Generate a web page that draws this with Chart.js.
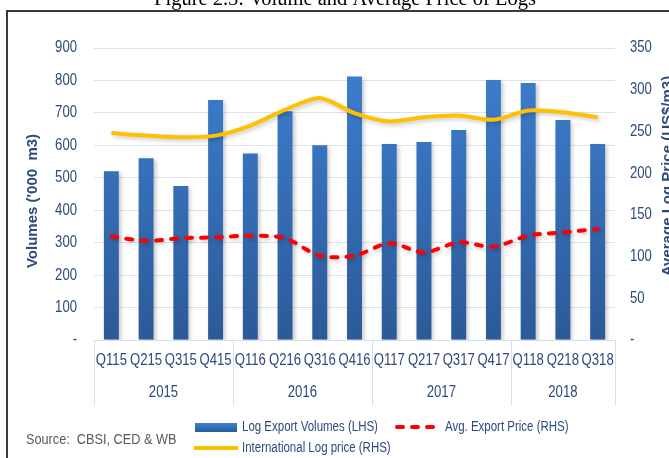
<!DOCTYPE html>
<html>
<head>
<meta charset="utf-8">
<script src="https://cdn.jsdelivr.net/npm/chart.js@4.4.0/dist/chart.umd.min.js"></script>
<style>
  html, body { margin: 0; padding: 0; background: #fff; overflow: hidden; }
</style>
</head>
<body>
<canvas id="logsChart" width="669" height="458"></canvas>
<script>
const quarters = ['Q115', 'Q215', 'Q315', 'Q415', 'Q116', 'Q216', 'Q316', 'Q416',
                  'Q117', 'Q217', 'Q317', 'Q417', 'Q118', 'Q218', 'Q318'];
const years = ['2015', '2016', '2017', '2018'];
const quartersPerYear = [4, 4, 4, 3];

// log export volumes ('000 m3), LHS
const volumes = [520, 560, 475, 740, 575, 705, 600, 812, 604, 610, 647, 801, 792, 678, 604];
// avg. export price (US$/m3), RHS
const exportPrice = [124, 119, 122, 123, 125, 122, 101, 101, 116, 105, 117, 112, 125, 129, 133];
// international log price (US$/m3), RHS
const intlPrice = [248, 245, 243, 245, 257, 276, 290, 272, 262, 267, 269, 264, 275, 273, 267];

const leftMax = 900, leftStep = 100;
const rightMax = 350, rightStep = 50;

// no Arial Narrow here, so squeeze Liberation Sans horizontally
const SANS = "'Liberation Sans', Arial, sans-serif";
const SQUEEZE = 0.82;
const INK = '#2e4a7d';

function barGradient(ctx, area) {
  const g = ctx.createLinearGradient(0, area.top, 0, area.bottom);
  g.addColorStop(0, '#3d80d2');
  g.addColorStop(1, '#2c5a98');
  return g;
}

function narrowText(ctx, text, x, y, align, size, color) {
  ctx.save();
  ctx.font = size + 'px ' + SANS;
  ctx.fillStyle = color || INK;
  ctx.textAlign = align;
  ctx.textBaseline = 'middle';
  ctx.translate(x, y);
  ctx.scale(SQUEEZE, 1);
  ctx.fillText(text, 0, 0);
  ctx.restore();
}

const decor = {
  id: 'decor',
  beforeDatasetDraw(chart) {
    const ctx = chart.ctx;
    ctx.save();
    ctx.shadowColor = 'rgba(0,0,0,0.22)';
    ctx.shadowBlur = 4;
    ctx.shadowOffsetX = 2;
    ctx.shadowOffsetY = 2;
  },
  afterDatasetDraw(chart) {
    chart.ctx.restore();
  },
  afterDraw(chart) {
    const ctx = chart.ctx;
    const { x, y, y1 } = chart.scales;
    const area = chart.chartArea;
    ctx.save();

    // cut-off figure title
    ctx.fillStyle = '#000';
    ctx.font = "20.5px 'Liberation Serif', 'Times New Roman', serif";
    ctx.textAlign = 'center';
    ctx.textBaseline = 'alphabetic';
    ctx.fillText('Figure 2.5: Volume and Average Price of Logs', 345, 5);

    // frame
    ctx.strokeStyle = '#3a3a3a';
    ctx.lineWidth = 2;
    ctx.beginPath();
    ctx.moveTo(7, 460);
    ctx.lineTo(7, 11);
    ctx.lineTo(670, 11);
    ctx.stroke();

    // tick labels
    y.ticks.forEach(t => {
      narrowText(ctx, t.value === 0 ? '-' : String(t.value), 77, y.getPixelForValue(t.value), 'right', 16);
    });
    y1.ticks.forEach(t => {
      narrowText(ctx, t.value === 0 ? '-' : String(t.value), 630, y1.getPixelForValue(t.value), 'left', 16);
    });
    quarters.forEach((q, i) => {
      narrowText(ctx, q, x.getPixelForValue(i), 361, 'center', 16);
    });

    // year groups under the quarter labels
    ctx.strokeStyle = '#d3dff0';
    ctx.lineWidth = 1;
    let idx = 0;
    const half = (x.getPixelForValue(1) - x.getPixelForValue(0)) / 2;
    const edges = [x.getPixelForValue(0) - half];
    years.forEach((yr, i) => {
      const first = idx, last = idx + quartersPerYear[i] - 1;
      const mid = (x.getPixelForValue(first) + x.getPixelForValue(last)) / 2;
      narrowText(ctx, yr, mid, 393, 'center', 16);
      idx += quartersPerYear[i];
      edges.push(x.getPixelForValue(last) + half);
    });
    edges.forEach(e => {
      const px = Math.round(e) + 0.5;
      ctx.beginPath();
      ctx.moveTo(px, area.bottom);
      ctx.lineTo(px, 405);
      ctx.stroke();
    });

    // axis titles
    ctx.font = 'bold 15px ' + SANS;
    ctx.fillStyle = INK;
    ctx.textAlign = 'center';
    ctx.textBaseline = 'middle';
    ctx.save();
    ctx.translate(33, 201);
    ctx.rotate(-Math.PI / 2);
    ctx.fillText("Volumes ('000  m3)", 0, 0);
    ctx.restore();
    ctx.save();
    ctx.translate(668, 176);
    ctx.rotate(-Math.PI / 2);
    ctx.fillText('Average Log Price (US$/m3)', 0, 0);
    ctx.restore();

    // source
    narrowText(ctx, 'Source:  CBSI, CED & WB', 26, 440, 'left', 15.5, '#595959');

    // legend
    const ds = chart.data.datasets;
    ctx.fillStyle = barGradient(ctx, { top: 423, bottom: 432 });
    ctx.fillRect(195, 423, 42, 9);
    narrowText(ctx, ds[0].label, 242, 427, 'left', 14);

    ctx.strokeStyle = '#ff0000';
    ctx.lineWidth = 4;
    ctx.lineCap = 'round';
    ctx.setLineDash([6, 9]);
    ctx.beginPath();
    ctx.moveTo(397, 427);
    ctx.lineTo(437, 427);
    ctx.stroke();
    ctx.setLineDash([]);
    narrowText(ctx, ds[1].label, 445, 427, 'left', 14);

    ctx.strokeStyle = '#ffc000';
    ctx.lineWidth = 4;
    ctx.lineCap = 'butt';
    ctx.beginPath();
    ctx.moveTo(194, 448);
    ctx.lineTo(238, 448);
    ctx.stroke();
    narrowText(ctx, ds[2].label, 242, 448, 'left', 14);

    ctx.restore();
  }
};

new Chart(document.getElementById('logsChart'), {
  data: {
    labels: quarters,
    datasets: [
      {
        type: 'bar',
        label: 'Log Export Volumes (LHS)',
        data: volumes,
        yAxisID: 'y',
        order: 3,
        backgroundColor: (c) => {
          const a = c.chart.chartArea;
          if (!a) return '#3465a8';
          return barGradient(c.chart.ctx, a);
        },
        categoryPercentage: 1,
        barPercentage: 0.43
      },
      {
        type: 'line',
        label: 'Avg. Export Price (RHS)',
        data: exportPrice,
        yAxisID: 'y1',
        order: 1,
        borderColor: '#ff0000',
        borderWidth: 4,
        borderDash: [6, 9],
        borderCapStyle: 'round',
        tension: 0.3,
        pointRadius: 0,
        fill: false
      },
      {
        type: 'line',
        label: 'International Log price (RHS)',
        data: intlPrice,
        yAxisID: 'y1',
        order: 2,
        borderColor: '#ffc000',
        borderWidth: 4,
        tension: 0.25,
        pointRadius: 0,
        fill: false
      }
    ]
  },
  options: {
    responsive: false,
    animation: false,
    layout: { padding: { top: 48, bottom: 0, left: 0, right: 0 } },
    plugins: {
      legend: { display: false },
      tooltip: { enabled: false }
    },
    scales: {
      x: {
        grid: { display: false, drawTicks: false },
        border: { display: true, color: '#d3dff0' },
        ticks: { display: false, autoSkip: false },
        afterFit: (s) => { s.height = 118; }
      },
      y: {
        position: 'left',
        min: 0,
        max: leftMax,
        grid: { color: '#d9e4f2', drawTicks: false },
        border: { display: false },
        ticks: { display: false, stepSize: leftStep },
        afterFit: (s) => { s.width = 94; }
      },
      y1: {
        position: 'right',
        min: 0,
        max: rightMax,
        grid: { display: false, drawTicks: false },
        border: { display: false },
        ticks: { display: false, stepSize: rightStep },
        afterFit: (s) => { s.width = 54; }
      }
    }
  },
  plugins: [decor]
});
</script>
</body>
</html>
